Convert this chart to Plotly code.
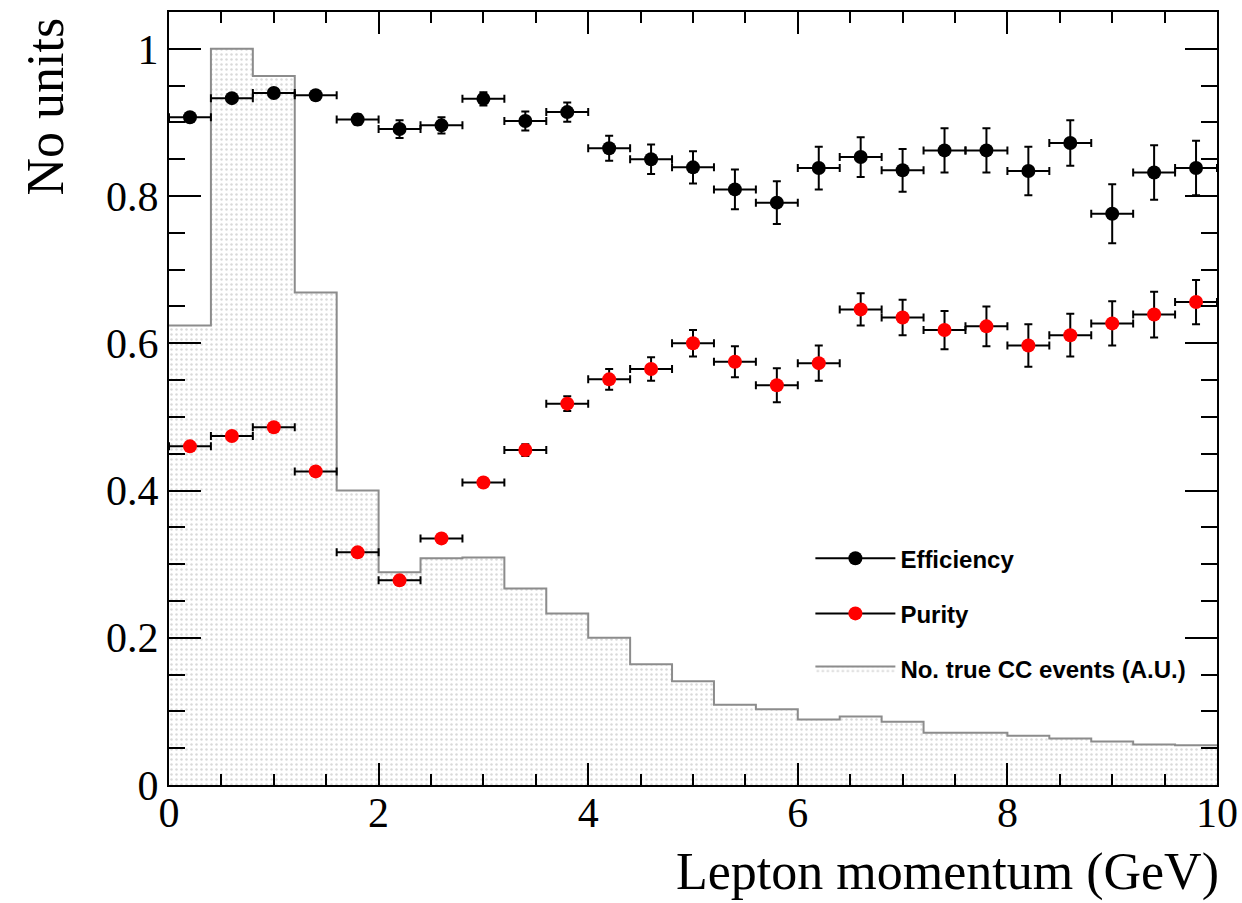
import plotly.graph_objects as go

# ---------------- data ----------------
bin_edges = [round(0.4 * i, 1) for i in range(26)]
bin_centers = [round(0.2 + 0.4 * i, 1) for i in range(25)]

efficiency = [0.907, 0.933, 0.940, 0.937, 0.904, 0.891, 0.896, 0.932, 0.902, 0.914,
              0.865, 0.850, 0.839, 0.809, 0.791, 0.838, 0.853, 0.835, 0.862, 0.862,
              0.834, 0.872, 0.776, 0.832, 0.838]
efficiency_err = [0.003, 0.005, 0.005, 0.004, 0.007, 0.012, 0.011, 0.009, 0.013, 0.013,
                  0.017, 0.020, 0.022, 0.027, 0.029, 0.029, 0.027, 0.029, 0.030, 0.030,
                  0.033, 0.031, 0.040, 0.037, 0.037]

purity = [0.460, 0.474, 0.486, 0.426, 0.316, 0.278, 0.335, 0.411, 0.455, 0.518,
          0.551, 0.565, 0.600, 0.575, 0.543, 0.573, 0.646, 0.635, 0.618, 0.623,
          0.597, 0.611, 0.627, 0.639, 0.656]
purity_err = [0.003, 0.003, 0.004, 0.003, 0.004, 0.004, 0.005, 0.006, 0.008, 0.010,
              0.014, 0.016, 0.018, 0.021, 0.023, 0.024, 0.022, 0.024, 0.026, 0.027,
              0.029, 0.029, 0.030, 0.031, 0.030]

true_cc = [0.624, 1.000, 0.963, 0.669, 0.400, 0.289, 0.308, 0.309, 0.267, 0.233,
           0.200, 0.164, 0.141, 0.109, 0.103, 0.089, 0.093, 0.086, 0.071, 0.071,
           0.067, 0.063, 0.059, 0.055, 0.054]

half_width = [0.2] * 25

SERIF = "Liberation Serif"
SANS = "Liberation Sans"

fig = go.Figure()

# histogram (step outline with dotted fill)
fig.add_trace(go.Scatter(
    x=bin_edges, y=true_cc + [true_cc[-1]],
    mode="lines", line=dict(shape="hv", color="#8c8c8c", width=2),
    fill="tozeroy", fillcolor="white",
    fillpattern=dict(shape=".", fgcolor="#b4b4b4", bgcolor="white", size=5, solidity=0.2),
    name="No. true CC events (A.U.)", legendgroup="c", legendrank=3,
    showlegend=True,
))

# efficiency
fig.add_trace(go.Scatter(
    x=bin_centers, y=efficiency, mode="markers",
    marker=dict(color="black", size=14, symbol="circle"),
    error_x=dict(type="data", array=half_width, color="black", thickness=2, width=4),
    error_y=dict(type="data", array=efficiency_err, color="black", thickness=2, width=4),
    showlegend=False, name="Efficiency",
))

# purity
fig.add_trace(go.Scatter(
    x=bin_centers, y=purity, mode="markers",
    marker=dict(color="#ff0000", size=14, symbol="circle"),
    error_x=dict(type="data", array=half_width, color="black", thickness=2, width=4),
    error_y=dict(type="data", array=purity_err, color="black", thickness=2, width=4),
    showlegend=False, name="Purity",
))

# legend entries (line + marker style like the reference)
fig.add_trace(go.Scatter(
    x=[None], y=[None], mode="lines+markers",
    line=dict(color="black", width=2), marker=dict(color="black", size=14),
    name="Efficiency", legendgroup="a", legendrank=1,
))
fig.add_trace(go.Scatter(
    x=[None], y=[None], mode="lines+markers",
    line=dict(color="black", width=2), marker=dict(color="#ff0000", size=14),
    name="Purity", legendgroup="b", legendrank=2,
))

fig.update_layout(
    width=1242, height=903,
    margin=dict(l=169, r=25, t=12, b=118),
    paper_bgcolor="white", plot_bgcolor="white",
    showlegend=True,
    legend=dict(
        x=0.612, y=0.322, xanchor="left", yanchor="top",
        font=dict(family=SANS, size=24, color="black", weight="bold"),
        bgcolor="rgba(0,0,0,0)", borderwidth=0,
        tracegroupgap=21, itemwidth=80, traceorder="grouped",
    ),
    xaxis=dict(
        range=[0, 10], tickvals=[0, 2, 4, 6, 8, 10],
        ticks="inside", ticklen=22, tickwidth=2, tickcolor="black",
        minor=dict(dtick=0.5, ticks="inside", ticklen=11, tickwidth=1.5, tickcolor="black"),
        showline=True, linecolor="black", linewidth=2, mirror="allticks",
        showgrid=False, zeroline=False, automargin=False,
        ticklabeloverflow="allow",
        tickfont=dict(family=SERIF, size=42, color="black"),
        ticklabelstandoff=-10,
    ),
    yaxis=dict(
        range=[0, 1.05], tickvals=[0, 0.2, 0.4, 0.6, 0.8, 1.0],
        ticktext=["0", "0.2", "0.4", "0.6", "0.8", "1"],
        ticks="inside", ticklen=32, tickwidth=2, tickcolor="black",
        minor=dict(dtick=0.05, ticks="inside", ticklen=16, tickwidth=1.5, tickcolor="black"),
        showline=True, linecolor="black", linewidth=2, mirror="allticks",
        showgrid=False, zeroline=False, automargin=False,
        tickfont=dict(family=SERIF, size=42, color="black"),
    ),
    annotations=[
        dict(text="No units", xref="paper", yref="paper", x=-0.118, y=0.996,
             xanchor="center", yanchor="top", textangle=-90, showarrow=False,
             font=dict(family=SERIF, size=52, color="black")),
        dict(text="Lepton momentum (GeV)", xref="paper", yref="paper", x=1.0, y=-0.112,
             xanchor="right", yanchor="middle", showarrow=False, xshift=4,
             font=dict(family=SERIF, size=52, color="black")),
    ],
)

fig.write_html("out.html")
